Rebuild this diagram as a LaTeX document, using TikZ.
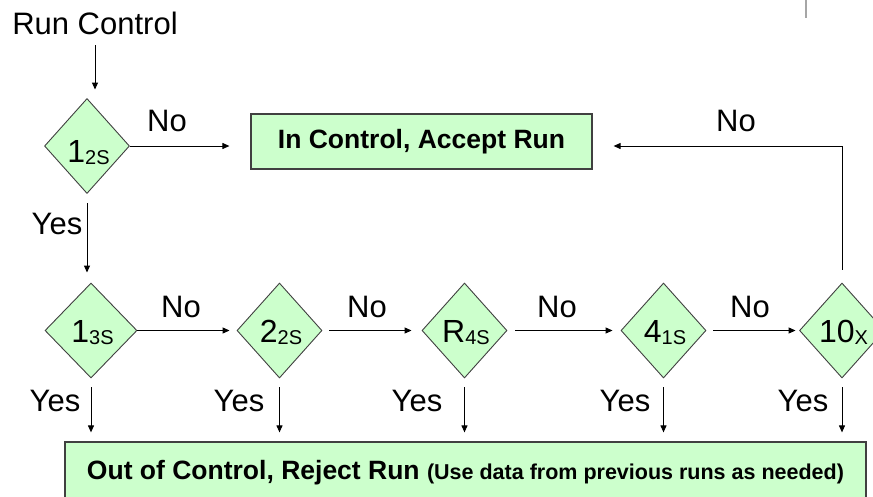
\documentclass[tikz,border=0pt]{standalone}
\usepackage{fontspec}
\setmainfont{Liberation Sans}
\usetikzlibrary{shapes.geometric,arrows.meta}
\definecolor{boxgreen}{HTML}{CCFFCC}
\definecolor{edgegray}{HTML}{404040}
% subscript used inside the decision diamonds
\newcommand\qsub[1]{\raisebox{-2pt}{\fontsize{20}{20}\selectfont #1}}
\tikzset{
  lbl/.style={inner sep=0pt, font=\fontsize{31}{31}\selectfont},
  dia/.style={diamond, draw=edgegray, line width=0.9pt, fill=boxgreen,
    inner sep=0pt, minimum width=85pt, minimum height=95pt,
    text height=26pt, text depth=3pt, font=\fontsize{32}{32}\selectfont},
  diatop/.style={dia, text height=35pt, text depth=2pt},
  bx/.style={rectangle, draw=edgegray, line width=1.2pt, fill=boxgreen, inner sep=0pt},
  arr/.style={line width=1pt, -{Triangle[length=7pt,width=6pt]}},
}
\begin{document}
\begin{tikzpicture}[x=1pt,y=-1pt]
\useasboundingbox (0,0) rectangle (873,496);
\clip (0,0) rectangle (873,496);
\fill[white] (0,0) rectangle (873,496);

% stray mark at the top right
\coordinate (m1) at (806,0);
\coordinate (m2) at (806,18);
\draw[gray!70, line width=1.5pt] (m1) -- (m2);

% start
\node[lbl] (rc) at (95,23) {Run Control};

% first decision and the accept box
\node[diatop] (d1) at (87,146) {\hspace*{3pt}1\qsub{2S}};
\node[bx, minimum width=341pt, minimum height=55pt] (acc) at (421.5,141.5)
  {\bfseries\fontsize{26.5}{26.5}\selectfont In Control, Accept Run};

% row of decisions
\node[dia, minimum width=92pt] (d2) at (91,330.5) {\hspace*{3pt}1\qsub{3S}};
\node[dia] (d3) at (279.5,330.5) {\hspace*{3pt}2\qsub{2S}};
\node[dia] (d4) at (464.5,330.5) {\hspace*{3pt}R\qsub{4S}};
\node[dia] (d5) at (663.5,330.5) {\hspace*{3pt}4\qsub{1S}};
\node[dia] (d6) at (842,330.5) {\hspace*{3pt}10\qsub{X}};

% reject box
\node[bx, minimum width=801pt, minimum height=62pt] (rej) at (465.5,473)
  {\bfseries\fontsize{26.5}{26.5}\selectfont Out of Control, Reject Run
   \fontsize{21.5}{21.5}\selectfont(Use data from previous runs as needed)};

% connectors
\draw[arr, shorten <=10.5pt, shorten >=8.5pt] (rc) -- (rc |- d1.north);
\draw[arr, shorten >=21pt] (d1.east) -- (d1.east -| acc.west);
\draw[arr, shorten <=9.5pt, shorten >=10pt] (d1.south) -- (d1.south |- d2.north);

\draw[arr, shorten >=7pt] (d2.east) -- (d3.west);
\draw[arr, shorten <=7pt, shorten >=10pt] (d3.east) -- (d4.west);
\draw[arr, shorten <=8pt, shorten >=8pt] (d4.east) -- (d5.west);
\draw[arr, shorten <=7pt, shorten >=3.5pt] (d5.east) -- (d6.west);

\foreach \d in {d2,d3,d4,d5,d6}
  \draw[arr, shorten <=9pt, shorten >=9pt] (\d.south) -- (\d.south |- rej.north);

\draw[arr, shorten <=13pt, shorten >=21pt] (d6.north) |- (d1.east -| acc.east);

% branch labels
\node[lbl] (n1) at (167,121) {No};
\node[lbl] (n2) at (181,306.5) {No};
\node[lbl] (n3) at (367,306.5) {No};
\node[lbl] (n4) at (557,306.5) {No};
\node[lbl] (n5) at (750,306.5) {No};
\node[lbl] (n6) at (736,121) {No};

\node[lbl] (y1) at (57,223.5) {Yes};
\node[lbl] (y2) at (55,401) {Yes};
\node[lbl] (y3) at (239,401) {Yes};
\node[lbl] (y4) at (417,401) {Yes};
\node[lbl] (y5) at (625,401) {Yes};
\node[lbl] (y6) at (803,401) {Yes};
\end{tikzpicture}
\end{document}
